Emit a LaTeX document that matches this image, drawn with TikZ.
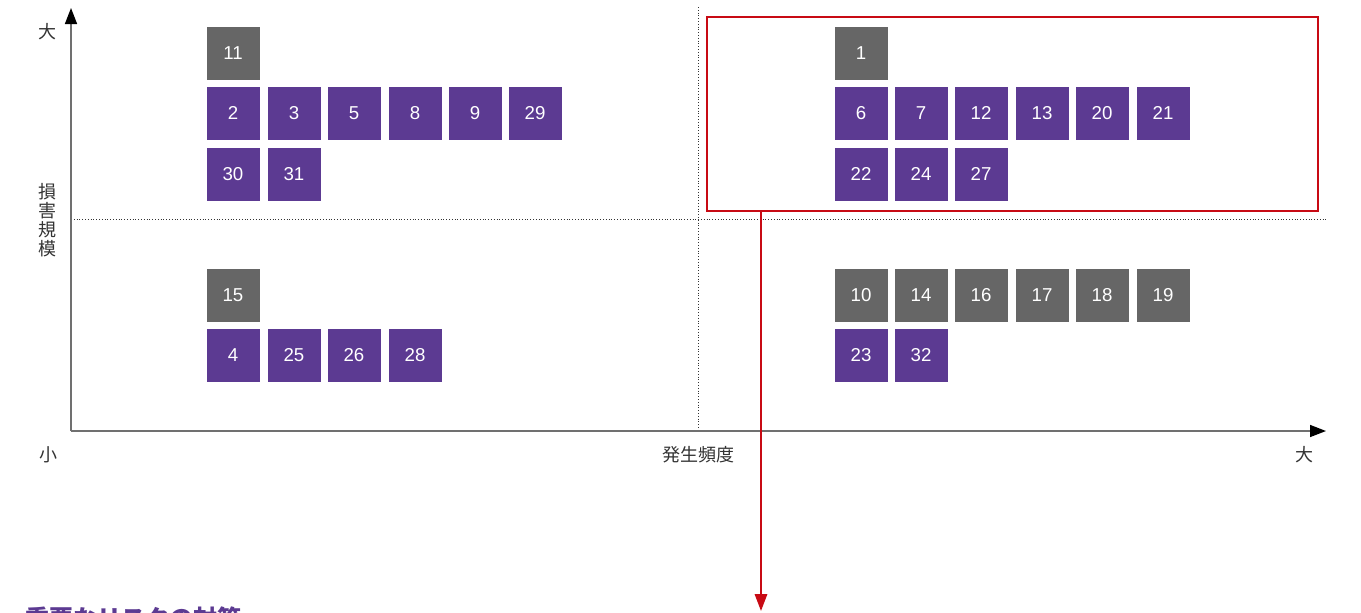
\documentclass[tikz,border=0pt]{standalone}
\usepackage{fontspec}
\setmainfont{Liberation Sans}
\newfontfamily\cjk{Noto Sans CJK JP}
\usetikzlibrary{arrows.meta}
\definecolor{riskpurple}{HTML}{5C3A92}
\definecolor{riskgray}{HTML}{666666}
\definecolor{riskred}{HTML}{C80A14}
\definecolor{axisgray}{HTML}{707070}
\definecolor{labelcol}{HTML}{333333}
\tikzset{
  rbox/.style={rectangle, inner sep=0pt, minimum width=39.75pt, minimum height=39.75pt,
    text=white, font=\fontsize{14}{14}\selectfont},
  pbox/.style={rbox, fill=riskpurple},
  gbox/.style={rbox, fill=riskgray},
  axislab/.style={font=\cjk\fontsize{13.5}{14.25}\selectfont, text=labelcol, inner sep=0pt},
  axisline/.style={draw=axisgray, line width=1.1pt, -{Triangle[length=12pt,width=9pt,color=black]}},
  dotline/.style={draw=labelcol, line width=0.7pt, dash pattern=on 0.7pt off 1.4pt},
}
\begin{document}
\begin{tikzpicture}[x=0.75pt,y=-0.75pt]
\clip (0,0) rectangle (1361,612);
\fill[white] (0,0) rectangle (1361,612);
% axes
\coordinate (origin) at (71,431);
\coordinate (ytip) at (71,8);
\coordinate (xtip) at (1326,431);
\coordinate (vtop) at (698,7);
\coordinate (vbot) at (698,431);
\coordinate (hleft) at (71,219);
\coordinate (hright) at (1328,219);
\draw[dotline] (vtop) -- (vbot);
\draw[dotline] (hleft) -- (hright);
\draw[axisline] (origin) -- (ytip);
\draw[axisline] (origin) -- (xtip);
% axis labels
\node[axislab] (ybig) at (47,32) {大};
\node[axislab, align=center] (ylab) at (47,220) {損\\害\\規\\模};
\node[axislab] (xsmall) at (48,455) {小};
\node[axislab] (xlab) at (698,455) {発生頻度};
\node[axislab] (xbig) at (1304,455) {大};
% upper left
\node[gbox] (b11) at (233,53) {11};
\node[pbox] (b2) at (233,113) {2};
\node[pbox] (b3) at (294,113) {3};
\node[pbox] (b5) at (354,113) {5};
\node[pbox] (b8) at (415,113) {8};
\node[pbox] (b9) at (475,113) {9};
\node[pbox] (b29) at (535,113) {29};
\node[pbox] (b30) at (233,174) {30};
\node[pbox] (b31) at (294,174) {31};
% lower left
\node[gbox] (b15) at (233,295) {15};
\node[pbox] (b4) at (233,355) {4};
\node[pbox] (b25) at (294,355) {25};
\node[pbox] (b26) at (354,355) {26};
\node[pbox] (b28) at (415,355) {28};
% upper right
\node[gbox] (b1) at (861,53) {1};
\node[pbox] (b6) at (861,113) {6};
\node[pbox] (b7) at (921,113) {7};
\node[pbox] (b12) at (981,113) {12};
\node[pbox] (b13) at (1042,113) {13};
\node[pbox] (b20) at (1102,113) {20};
\node[pbox] (b21) at (1163,113) {21};
\node[pbox] (b22) at (861,174) {22};
\node[pbox] (b24) at (921,174) {24};
\node[pbox] (b27) at (981,174) {27};
% lower right
\node[gbox] (b10) at (861,295) {10};
\node[gbox] (b14) at (921,295) {14};
\node[gbox] (b16) at (981,295) {16};
\node[gbox] (b17) at (1042,295) {17};
\node[gbox] (b18) at (1102,295) {18};
\node[gbox] (b19) at (1163,295) {19};
\node[pbox] (b23) at (861,355) {23};
\node[pbox] (b32) at (921,355) {32};
% focus frame and arrow
\node[draw=riskred, line width=1.5pt, minimum width=458.5pt, minimum height=145.5pt, inner sep=0pt] (focus) at (1012.4,113.7) {};
\coordinate (arrowend) at (761,611);
\draw[riskred, line width=1.5pt, -{Triangle[length=12.75pt,width=9.3pt]}] (focus.south -| arrowend) -- (arrowend);
% heading (cut off at the bottom)
\node[anchor=base west, inner sep=0pt, text=riskpurple, font=\cjk\bfseries\fontsize{18}{18}\selectfont] (heading) at (25,627) {重要なリスクの対策};
\end{tikzpicture}
\end{document}
